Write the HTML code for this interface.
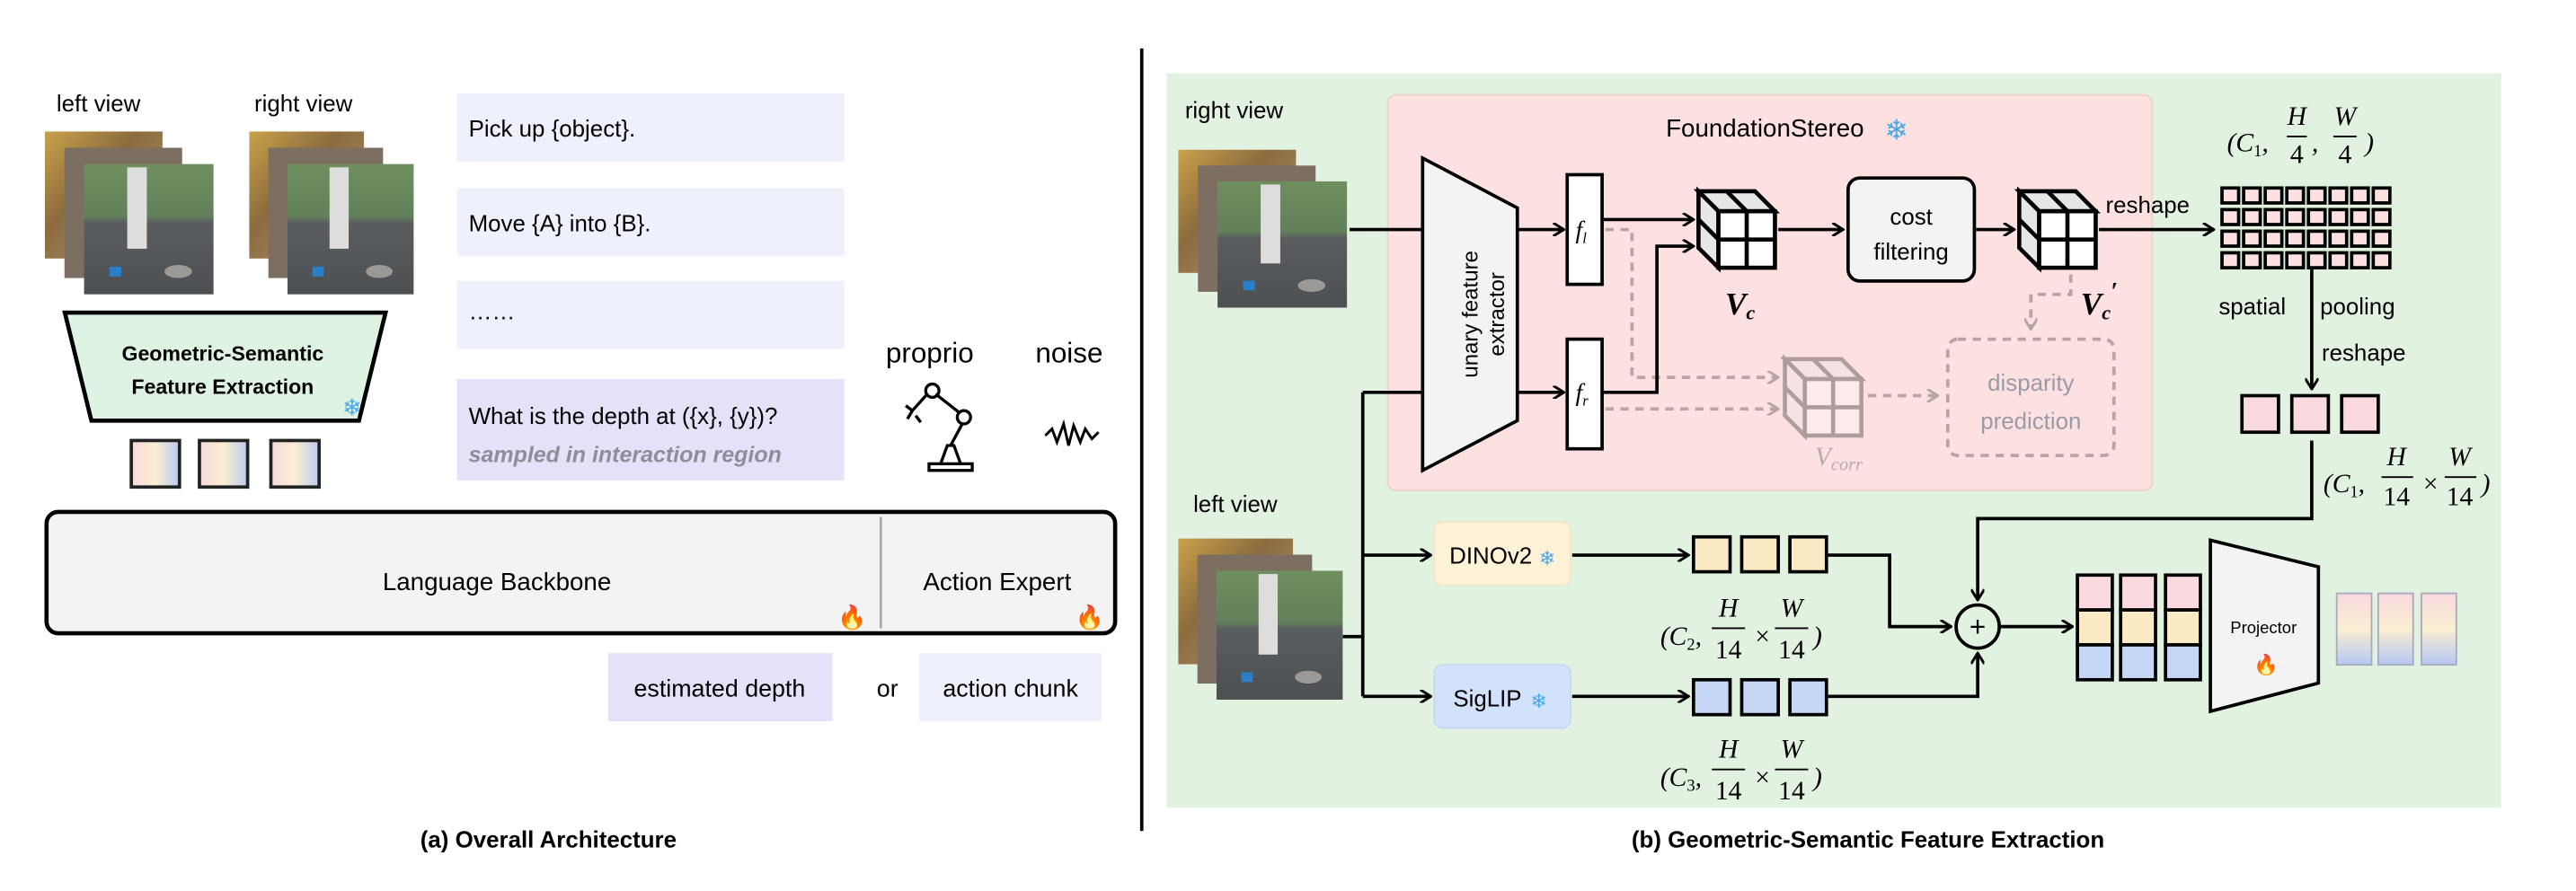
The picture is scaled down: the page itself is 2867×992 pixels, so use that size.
<!DOCTYPE html>
<html><head><meta charset="utf-8"><style>
html,body{margin:0;padding:0;background:#fff;}
svg{display:block;}
</style></head><body>
<svg width="2867" height="992" viewBox="0 0 1550 536" xmlns="http://www.w3.org/2000/svg" font-family="Liberation Sans, sans-serif">
<defs>
<marker id="ah" viewBox="0 0 10 10" refX="9" refY="5" markerWidth="8" markerHeight="8" orient="auto" markerUnits="userSpaceOnUse"><path d="M1,0 L9,5 L1,10" fill="none" stroke="#000" stroke-width="2"/></marker>
<marker id="ahg" viewBox="0 0 10 10" refX="9" refY="5" markerWidth="8" markerHeight="8" orient="auto" markerUnits="userSpaceOnUse"><path d="M1,0 L9,5 L1,10" fill="none" stroke="#b9a3a3" stroke-width="2"/></marker>
<linearGradient id="tokh" x1="0" x2="1" y1="0" y2="0"><stop offset="0" stop-color="#f8d9df"/><stop offset="0.5" stop-color="#fbeed2"/><stop offset="1" stop-color="#b9ccf2"/></linearGradient>
<linearGradient id="tokv" x1="0" x2="0" y1="0" y2="1"><stop offset="0" stop-color="#f8d9df"/><stop offset="0.5" stop-color="#fbeed2"/><stop offset="1" stop-color="#b4c8f3"/></linearGradient>
<linearGradient id="back" x1="0" x2="1" y1="0" y2="1"><stop offset="0" stop-color="#c9a24a"/><stop offset="0.4" stop-color="#8b6b3e"/><stop offset="1" stop-color="#b89a7a"/></linearGradient>
<linearGradient id="front" x1="0" x2="0" y1="0" y2="1"><stop offset="0" stop-color="#6f8f5e"/><stop offset="0.4" stop-color="#62805a"/><stop offset="0.45" stop-color="#5a5d60"/><stop offset="1" stop-color="#4d5053"/></linearGradient>
<g id="photo">
<rect x="0" y="0" width="60" height="78" fill="url(#back)"/>
<rect x="10" y="10" width="60" height="80" fill="#7d6e62"/>
<rect x="20" y="20" width="66" height="80" fill="url(#front)"/>
<rect x="42" y="22" width="10" height="50" fill="#ddd"/>
<rect x="33" y="83" width="6" height="6" fill="#2a7fc8"/>
<ellipse cx="68" cy="86" rx="7" ry="4" fill="#999"/>
</g>
<g id="cube">
<polygon points="0,0 34,0 46,12 12,12" fill="#e6e6e6" stroke="#000" stroke-width="2.5"/>
<polygon points="0,0 12,12 12,46 0,34" fill="#e6e6e6" stroke="#000" stroke-width="2.5"/>
<rect x="12" y="12" width="34" height="34" fill="#fff" stroke="#000" stroke-width="2.5"/>
<path d="M29,12 V46 M12,29 H46 M17,0 L29,12 M0,17 L12,29" stroke="#000" stroke-width="2.5"/>
</g>
</defs>

<!-- ========== LEFT PANEL ========== -->
<text x="34" y="67" font-size="14">left view</text>
<text x="153" y="67" font-size="14">right view</text>
<use href="#photo" transform="translate(27,79) scale(1.18,0.98)"/>
<use href="#photo" transform="translate(150,79) scale(1.15,0.98)"/>
<polygon points="39,188 232,188 216,253 55,253" fill="#dff3e3" stroke="#000" stroke-width="2.5"/>
<text x="134" y="217" font-size="12.5" font-weight="bold" text-anchor="middle">Geometric-Semantic</text>
<text x="134" y="237" font-size="12.5" font-weight="bold" text-anchor="middle">Feature Extraction</text>
<text x="206" y="250" font-size="14" fill="#4aa8e8">❄</text>
<rect x="79" y="265" width="29" height="28" fill="url(#tokh)" stroke="#222" stroke-width="2"/>
<rect x="120" y="265" width="29" height="28" fill="url(#tokh)" stroke="#222" stroke-width="2"/>
<rect x="163" y="265" width="29" height="28" fill="url(#tokh)" stroke="#222" stroke-width="2"/>

<rect x="275" y="56" width="233" height="41" fill="#eef1fb"/>
<text x="282" y="82" font-size="14">Pick up {object}.</text>
<rect x="275" y="113" width="233" height="41" fill="#eef1fb"/>
<text x="282" y="139" font-size="14">Move {A} into {B}.</text>
<rect x="275" y="169" width="233" height="41" fill="#eef1fb"/>
<text x="282" y="192" font-size="14">……</text>
<rect x="275" y="228" width="233" height="61" fill="#e6e0f8"/>
<text x="282" y="255" font-size="14">What is the depth at ({x}, {y})?</text>
<text x="282" y="278" font-size="13.5" font-style="italic" font-weight="bold" fill="#8e8e9a">sampled in interaction region</text>

<text x="533" y="218" font-size="17">proprio</text>
<text x="623" y="218" font-size="17">noise</text>
<g fill="none" stroke="#000" stroke-width="1.8">
<rect x="559" y="279" width="26" height="4"/>
<path d="M566,279 L570,268 L574,268 L578,279"/>
<path d="M572,268 L579,255"/>
<circle cx="580" cy="251" r="4"/>
<path d="M577,248 L563,237"/>
<circle cx="561" cy="235" r="4"/>
<path d="M558,237 L549,247 M545,244 L549,247 L546,252 M551,250 L554,254"/>
</g>
<polyline points="629,262 633,258 636,266 640,255 643,268 646,256 650,266 653,258 657,264 661,260" fill="none" stroke="#000" stroke-width="1.6"/>

<rect x="28" y="308" width="643" height="73" rx="7" fill="#f3f3f3" stroke="#000" stroke-width="2.5"/>
<line x1="530" y1="311" x2="530" y2="378" stroke="#aaa" stroke-width="1.5"/>
<text x="299" y="355" font-size="15" text-anchor="middle">Language Backbone</text>
<text x="600" y="355" font-size="15" text-anchor="middle">Action Expert</text>
<text x="504" y="376" font-size="14" fill="#f07020">🔥</text>
<text x="647" y="376" font-size="14" fill="#f07020">🔥</text>

<rect x="366" y="393" width="135" height="41" fill="#e6e0f8"/>
<text x="433" y="419" font-size="14.5" text-anchor="middle">estimated depth</text>
<text x="534" y="419" font-size="14.5" text-anchor="middle">or</text>
<rect x="553" y="393" width="110" height="41" fill="#eef1fb"/>
<text x="608" y="419" font-size="14.5" text-anchor="middle">action chunk</text>

<text x="330" y="510" font-size="14" font-weight="bold" text-anchor="middle">(a) Overall Architecture</text>
<line x1="687" y1="29" x2="687" y2="500" stroke="#000" stroke-width="2"/>

<!-- ========== RIGHT PANEL ========== -->
<rect x="702" y="44" width="803" height="442" fill="#e1f2e1"/>
<rect x="835" y="57" width="460" height="238" rx="5" fill="#fde1e1" stroke="#f0cfcf" stroke-width="1"/>
<text x="1062" y="82" font-size="15" text-anchor="middle">FoundationStereo</text>
<text x="1134" y="84" font-size="17" fill="#4aa8e8">❄</text>

<text x="713" y="71" font-size="14">right view</text>
<use href="#photo" transform="translate(709,90) scale(1.18,0.95)"/>
<text x="718" y="308" font-size="14">left view</text>
<use href="#photo" transform="translate(709,324) scale(1.15,0.97)"/>

<polygon points="856,95 913,125 913,253 856,283" fill="#f3f3f3" stroke="#000" stroke-width="2"/>
<text transform="translate(889,189) rotate(-90)" font-size="13" text-anchor="middle">unary feature</text>
<text transform="translate(905,189) rotate(-90)" font-size="13" text-anchor="middle">extractor</text>
<line x1="812" y1="138" x2="855" y2="138" stroke="#000" stroke-width="2"/>
<line x1="913" y1="138" x2="941" y2="138" stroke="#000" stroke-width="2" marker-end="url(#ah)"/>
<line x1="913" y1="236" x2="941" y2="236" stroke="#000" stroke-width="2" marker-end="url(#ah)"/>
<rect x="943" y="105" width="21" height="66" fill="#fff" stroke="#000" stroke-width="2"/>
<rect x="943" y="204" width="21" height="66" fill="#fff" stroke="#000" stroke-width="2"/>
<text x="948" y="143" font-size="15" font-style="italic" font-family="Liberation Serif, serif">f<tspan font-size="9" dy="3">l</tspan></text>
<text x="948" y="241" font-size="15" font-style="italic" font-family="Liberation Serif, serif">f<tspan font-size="9" dy="3">r</tspan></text>

<g stroke="#b9a3a3" stroke-width="2" stroke-dasharray="5,4" fill="none">
<polyline points="966,138 982,138 982,227 1070,227" marker-end="url(#ahg)"/>
<line x1="966" y1="246" x2="1070" y2="246" marker-end="url(#ahg)"/>
<line x1="1124" y1="238" x2="1166" y2="238" marker-end="url(#ahg)"/>
<polyline points="1246,165 1246,177 1222,177 1222,198" marker-end="url(#ahg)"/>
<rect x="1172" y="204" width="100" height="70" rx="6"/>
</g>
<g opacity="0.3"><use href="#cube" transform="translate(1074,216)"/></g>
<text x="1092" y="280" font-size="16" font-style="italic" font-family="Liberation Serif, serif" fill="#b9a9a9">V<tspan font-size="11" dy="3">corr</tspan></text>
<text x="1222" y="235" font-size="14" fill="#9a9aa8" text-anchor="middle">disparity</text>
<text x="1222" y="258" font-size="14" fill="#9a9aa8" text-anchor="middle">prediction</text>

<line x1="964" y1="132" x2="1019" y2="132" stroke="#000" stroke-width="2" marker-end="url(#ah)"/>
<polyline points="964,236 997,236 997,148 1019,148" fill="none" stroke="#000" stroke-width="2" marker-end="url(#ah)"/>
<use href="#cube" transform="translate(1022,115)"/>
<text x="1038" y="189" font-size="19" font-weight="bold" font-style="italic" font-family="Liberation Serif, serif">V<tspan font-size="12" dy="3">c</tspan></text>
<line x1="1070" y1="138" x2="1109" y2="138" stroke="#000" stroke-width="2" marker-end="url(#ah)"/>
<rect x="1112" y="107" width="76" height="62" rx="7" fill="#f3f3f3" stroke="#000" stroke-width="2"/>
<text x="1150" y="135" font-size="14" text-anchor="middle">cost</text>
<text x="1150" y="156" font-size="14" text-anchor="middle">filtering</text>
<line x1="1189" y1="138" x2="1212" y2="138" stroke="#000" stroke-width="2" marker-end="url(#ah)"/>
<use href="#cube" transform="translate(1215,115)"/>
<text x="1252" y="189" font-size="19" font-weight="bold" font-style="italic" font-family="Liberation Serif, serif">V<tspan font-size="12" dy="3">c</tspan><tspan font-size="15" dy="-12">′</tspan></text>
<text x="1267" y="128" font-size="14">reshape</text>
<line x1="1263" y1="138" x2="1332" y2="138" stroke="#000" stroke-width="2" marker-end="url(#ah)"/>

<g fill="#fde1e1" stroke="#000" stroke-width="2">
<rect x="1337" y="113" width="10" height="9"/><rect x="1350" y="113" width="10" height="9"/><rect x="1363" y="113" width="10" height="9"/><rect x="1376" y="113" width="10" height="9"/><rect x="1389" y="113" width="10" height="9"/><rect x="1402" y="113" width="10" height="9"/><rect x="1415" y="113" width="10" height="9"/><rect x="1428" y="113" width="10" height="9"/>
<rect x="1337" y="126" width="10" height="9"/><rect x="1350" y="126" width="10" height="9"/><rect x="1363" y="126" width="10" height="9"/><rect x="1376" y="126" width="10" height="9"/><rect x="1389" y="126" width="10" height="9"/><rect x="1402" y="126" width="10" height="9"/><rect x="1415" y="126" width="10" height="9"/><rect x="1428" y="126" width="10" height="9"/>
<rect x="1337" y="139" width="10" height="9"/><rect x="1350" y="139" width="10" height="9"/><rect x="1363" y="139" width="10" height="9"/><rect x="1376" y="139" width="10" height="9"/><rect x="1389" y="139" width="10" height="9"/><rect x="1402" y="139" width="10" height="9"/><rect x="1415" y="139" width="10" height="9"/><rect x="1428" y="139" width="10" height="9"/>
<rect x="1337" y="152" width="10" height="9"/><rect x="1350" y="152" width="10" height="9"/><rect x="1363" y="152" width="10" height="9"/><rect x="1376" y="152" width="10" height="9"/><rect x="1389" y="152" width="10" height="9"/><rect x="1402" y="152" width="10" height="9"/><rect x="1415" y="152" width="10" height="9"/><rect x="1428" y="152" width="10" height="9"/>
</g>
<g font-family="Liberation Serif, serif" font-size="16" font-style="italic">
<text x="1340" y="91">(C<tspan font-size="10" dy="3" font-style="normal">1</tspan><tspan dy="-3">,</tspan></text>
<text x="1382" y="75" text-anchor="middle">H</text><line x1="1376" y1="82" x2="1388" y2="82" stroke="#000"/><text x="1382" y="98" text-anchor="middle" font-style="normal">4</text>
<text x="1391" y="91">,</text>
<text x="1411" y="75" text-anchor="middle">W</text><line x1="1404" y1="82" x2="1418" y2="82" stroke="#000"/><text x="1411" y="98" text-anchor="middle" font-style="normal">4</text>
<text x="1423" y="91">)</text>
</g>
<text x="1335" y="189" font-size="14">spatial</text>
<text x="1396" y="189" font-size="14">pooling</text>
<line x1="1391" y1="162" x2="1391" y2="234" stroke="#000" stroke-width="2" marker-end="url(#ah)"/>
<text x="1397" y="217" font-size="14">reshape</text>
<rect x="1349" y="238" width="22" height="22" fill="#fad9df" stroke="#000" stroke-width="2"/>
<rect x="1379" y="238" width="22" height="22" fill="#fad9df" stroke="#000" stroke-width="2"/>
<rect x="1409" y="238" width="22" height="22" fill="#fad9df" stroke="#000" stroke-width="2"/>
<polyline points="1391,265 1391,312 1190,312 1190,361" fill="none" stroke="#000" stroke-width="2" marker-end="url(#ah)"/>
<g font-family="Liberation Serif, serif" font-size="16" font-style="italic">
<text x="1398" y="296">(C<tspan font-size="10" dy="3" font-style="normal">1</tspan><tspan dy="-3">,</tspan></text>
<text x="1442" y="280" text-anchor="middle">H</text><line x1="1433" y1="287" x2="1452" y2="287" stroke="#000"/><text x="1442" y="304" text-anchor="middle" font-style="normal">14</text>
<text x="1458" y="296" font-style="normal">×</text>
<text x="1480" y="280" text-anchor="middle">W</text><line x1="1471" y1="287" x2="1490" y2="287" stroke="#000"/><text x="1480" y="304" text-anchor="middle" font-style="normal">14</text>
<text x="1493" y="296">)</text>
</g>

<line x1="856" y1="236" x2="820" y2="236" stroke="#000" stroke-width="2"/>
<line x1="820" y1="236" x2="820" y2="419" stroke="#000" stroke-width="2"/>
<line x1="808" y1="383" x2="820" y2="383" stroke="#000" stroke-width="2"/>
<line x1="820" y1="334" x2="861" y2="334" stroke="#000" stroke-width="2" marker-end="url(#ah)"/>
<line x1="820" y1="419" x2="861" y2="419" stroke="#000" stroke-width="2" marker-end="url(#ah)"/>
<rect x="863" y="314" width="82" height="38" rx="5" fill="#fdf1d6" stroke="#f3e6c8"/>
<text x="897" y="339" font-size="14" text-anchor="middle">DINOv2</text>
<text x="926" y="340" font-size="12" fill="#4aa8e8">❄</text>
<rect x="863" y="400" width="82" height="38" rx="5" fill="#d3e2fb" stroke="#c8d8f3"/>
<text x="895" y="425" font-size="14" text-anchor="middle">SigLIP</text>
<text x="921" y="426" font-size="12" fill="#4aa8e8">❄</text>
<line x1="946" y1="334" x2="1016" y2="334" stroke="#000" stroke-width="2" marker-end="url(#ah)"/>
<line x1="946" y1="419" x2="1016" y2="419" stroke="#000" stroke-width="2" marker-end="url(#ah)"/>
<g stroke="#000" stroke-width="2">
<rect x="1019" y="323" width="22" height="21" fill="#fbeac4"/><rect x="1048" y="323" width="22" height="21" fill="#fbeac4"/><rect x="1077" y="323" width="22" height="21" fill="#fbeac4"/>
<rect x="1019" y="409" width="22" height="21" fill="#c6d7f6"/><rect x="1048" y="409" width="22" height="21" fill="#c6d7f6"/><rect x="1077" y="409" width="22" height="21" fill="#c6d7f6"/>
</g>
<polyline points="1100,334 1137,334 1137,377 1174,377" fill="none" stroke="#000" stroke-width="2" marker-end="url(#ah)"/>
<polyline points="1100,419 1190,419 1190,393" fill="none" stroke="#000" stroke-width="2" marker-end="url(#ah)"/>
<circle cx="1190" cy="377" r="13" fill="none" stroke="#000" stroke-width="2"/>
<text x="1190" y="383" font-size="17" text-anchor="middle">+</text>
<line x1="1204" y1="377" x2="1247" y2="377" stroke="#000" stroke-width="2" marker-end="url(#ah)"/>
<g font-family="Liberation Serif, serif" font-size="16" font-style="italic">
<text x="999" y="388">(C<tspan font-size="10" dy="3" font-style="normal">2</tspan><tspan dy="-3">,</tspan></text>
<text x="1040" y="371" text-anchor="middle">H</text><line x1="1030" y1="378" x2="1050" y2="378" stroke="#000"/><text x="1040" y="396" text-anchor="middle" font-style="normal">14</text>
<text x="1056" y="388" font-style="normal">×</text>
<text x="1078" y="371" text-anchor="middle">W</text><line x1="1068" y1="378" x2="1088" y2="378" stroke="#000"/><text x="1078" y="396" text-anchor="middle" font-style="normal">14</text>
<text x="1091" y="388">)</text>
<text x="999" y="473">(C<tspan font-size="10" dy="3" font-style="normal">3</tspan><tspan dy="-3">,</tspan></text>
<text x="1040" y="456" text-anchor="middle">H</text><line x1="1030" y1="463" x2="1050" y2="463" stroke="#000"/><text x="1040" y="481" text-anchor="middle" font-style="normal">14</text>
<text x="1056" y="473" font-style="normal">×</text>
<text x="1078" y="456" text-anchor="middle">W</text><line x1="1068" y1="463" x2="1088" y2="463" stroke="#000"/><text x="1078" y="481" text-anchor="middle" font-style="normal">14</text>
<text x="1091" y="473">)</text>
</g>

<g stroke="#000" stroke-width="2">
<rect x="1250" y="346" width="21" height="21" fill="#fad9df"/><rect x="1250" y="367" width="21" height="21" fill="#fbeac4"/><rect x="1250" y="388" width="21" height="21" fill="#c6d7f6"/>
<rect x="1276" y="346" width="21" height="21" fill="#fad9df"/><rect x="1276" y="367" width="21" height="21" fill="#fbeac4"/><rect x="1276" y="388" width="21" height="21" fill="#c6d7f6"/>
<rect x="1303" y="346" width="21" height="21" fill="#fad9df"/><rect x="1303" y="367" width="21" height="21" fill="#fbeac4"/><rect x="1303" y="388" width="21" height="21" fill="#c6d7f6"/>
</g>
<polygon points="1330,325 1395,341 1395,411 1330,428" fill="#f3f3f3" stroke="#000" stroke-width="2"/>
<text x="1362" y="381" font-size="10" text-anchor="middle">Projector</text>
<text x="1356" y="404" font-size="12" fill="#f07020">🔥</text>
<rect x="1406" y="357" width="21" height="43" fill="url(#tokv)" stroke="#aab" stroke-width="1"/>
<rect x="1431" y="357" width="21" height="43" fill="url(#tokv)" stroke="#aab" stroke-width="1"/>
<rect x="1457" y="357" width="21" height="43" fill="url(#tokv)" stroke="#aab" stroke-width="1"/>

<text x="1124" y="510" font-size="14" font-weight="bold" text-anchor="middle">(b) Geometric-Semantic Feature Extraction</text>
</svg>
</body></html>
